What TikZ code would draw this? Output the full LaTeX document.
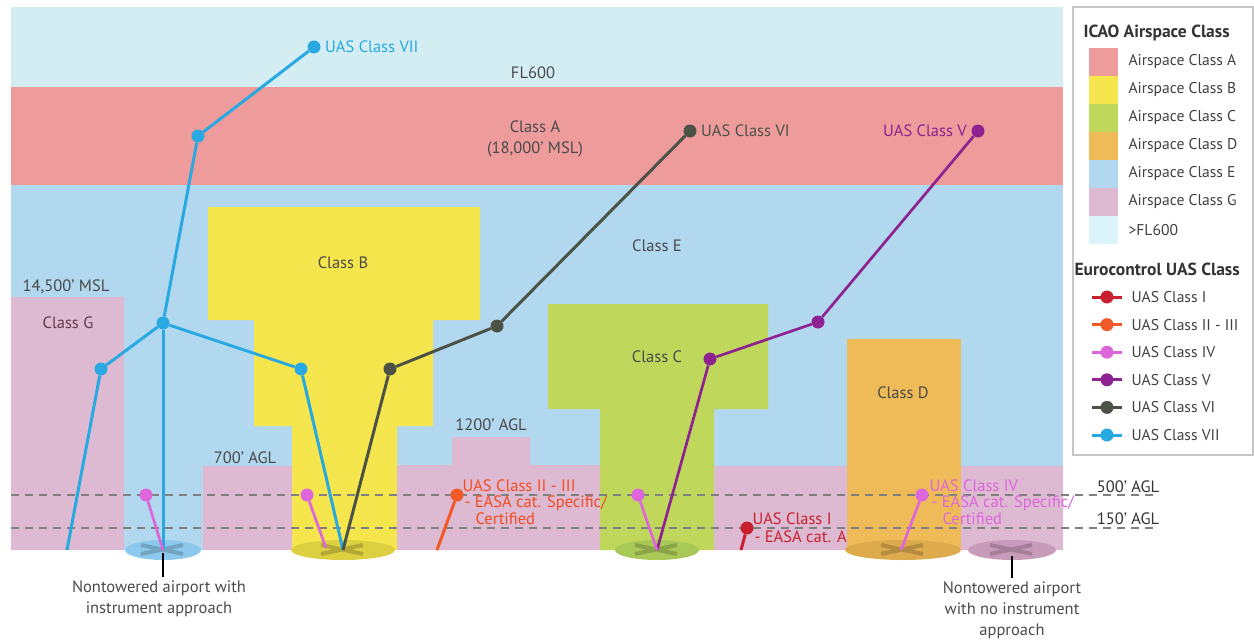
\documentclass[tikz,border=0pt]{standalone}
\usepackage{fontspec}
\setmainfont{PT Sans}
\usetikzlibrary{positioning}

\definecolor{flsky}{HTML}{D4EDF3}
\definecolor{flkey}{HTML}{DAF4FA}
\definecolor{clsA}{HTML}{EE9B9B}
\definecolor{clsB}{HTML}{F4E64C}
\definecolor{clsC}{HTML}{BFD85C}
\definecolor{clsD}{HTML}{EEBB58}
\definecolor{clsE}{HTML}{B1D8EF}
\definecolor{clsG}{HTML}{DDBAD2}
\definecolor{apE}{HTML}{8CC9EC}
\definecolor{apB}{HTML}{DCCF40}
\definecolor{apC}{HTML}{A9C957}
\definecolor{apD}{HTML}{DDAA4C}
\definecolor{apG}{HTML}{C99BBA}
\definecolor{uasI}{HTML}{C8202F}
\definecolor{uasII}{HTML}{F05A28}
\definecolor{uasIV}{HTML}{DD66DD}
\definecolor{uasV}{HTML}{8E2290}
\definecolor{uasVI}{HTML}{4C5346}
\definecolor{uasVII}{HTML}{29A9E1}
\definecolor{txt}{HTML}{4A4A4A}

\begin{document}
\begin{tikzpicture}[x=1pt, y=-1pt,
    every node/.style={font=\fontsize{16.5}{20}\selectfont, text=txt},
    uasdot/.style={circle, fill=#1, inner sep=0pt, minimum size=13pt},
    uasline/.style={draw=#1, line width=3pt},
    agl line/.style={draw=gray, line width=1.5pt, dash pattern=on 8pt off 6pt},
    legend text/.style={anchor=west, font=\fontsize{15.6}{18}\selectfont, text=black!75},
    legend title/.style={anchor=west, font=\bfseries\fontsize{17.5}{20}\selectfont, text=black!80}]

  \useasboundingbox (0,0) rectangle (1254,642);

  \fill[flsky] (11,7) rectangle (1063,87);
  \fill[clsA] (11,87) rectangle (1063,185);
  \fill[clsE] (11,185) rectangle (1063,550);
  \fill[clsB] (208,207) -- (480,207) -- (480,320) -- (433,320) -- (433,426) -- (397,426)
    -- (397,550) -- (292,550) -- (292,426) -- (254,426) -- (254,320) -- (208,320) -- cycle;
  \fill[clsC] (548,304) -- (768,304) -- (768,409) -- (714,409) -- (714,550)
    -- (600,550) -- (600,409) -- (548,409) -- cycle;
  \fill[clsD] (847,339) rectangle (961,550);
  \fill[clsG] (11,297) rectangle (124,550)
    (203,466) rectangle (292,550)
    (397,465) -- (452,465) -- (452,437) -- (530,437) -- (530,465) -- (600,465) -- (600,550) -- (397,550) -- cycle
    (714,466) rectangle (847,550)
    (961,466) rectangle (1063,550);

  \node (fl) at (533,73) {FL600};
  \node[align=center, font=\fontsize{16.5}{21}\selectfont] (a) at (535,139) {Class A\\(18,000’ MSL)};
  \node (e) at (657,246) {Class E};
  \node (b) at (343,263) {Class B};
  \node (c) at (657,357) {Class C};
  \node (d) at (903,393) {Class D};
  \node[text=txt!80!purple] (g) at (68,323) {Class G};
  \node (msl) at (66,287) {14,500’ MSL};
  \node (agl700) at (245,458) {700’ AGL};
  \node (agl1200) at (491,425) {1200’ AGL};
  \node[text=black!80] (agl500) at (1128,487) {500’ AGL};
  \node[text=black!80] (agl150) at (1128,519) {150’ AGL};

  \draw[agl line] (11,495) -- (1153,495);
  \draw[agl line] (11,528) -- (1153,528);

  \foreach \cx/\rx/\col in {163/38/apE, 343/52/apB, 657/42/apC, 903/58/apD, 1012/44/apG} {
    \fill[\col] (\cx,550) ellipse [x radius=\rx pt, y radius=10pt];
    \draw[black, opacity=.18, line width=4pt] (\cx-22,545) -- (\cx+20,554) (\cx-22,554) -- (\cx+20,545);
  }

  \coordinate (g1) at (163,550);
  \coordinate (g2) at (343,550);
  \coordinate (g2iv) at (326,548);
  \coordinate (g3) at (657,550);
  \coordinate (g4iv) at (901,550);
  \coordinate (gvii) at (67,550);
  \coordinate (gii) at (437,550);
  \coordinate (gi) at (741,550);
  \coordinate (t1) at (163,553);
  \coordinate (t5) at (1012,556);

  \node[align=center] (ap1) at (159,599) {Nontowered airport with\\[1pt]instrument approach};
  \node[align=center] (ap5) at (1012,610) {Nontowered airport\\[1pt]with no instrument\\[1pt]approach};
  \draw[black, line width=2.5pt] (t1) -- (t1 |- ap1.north);
  \draw[black, line width=2.5pt] (t5) -- (ap5.north);

  \node[uasdot=uasVII] (vii1) at (314,47) {};
  \node[uasdot=uasVII] (vii2) at (198,136) {};
  \node[uasdot=uasVII] (vii3) at (163,323) {};
  \node[uasdot=uasVII] (vii4) at (101,369) {};
  \node[uasdot=uasVII] (vii5) at (301,369) {};
  \node[uasdot=uasVI] (vi1) at (690,131) {};
  \node[uasdot=uasVI] (vi2) at (497,326) {};
  \node[uasdot=uasVI] (vi3) at (390,369) {};
  \node[uasdot=uasV] (v1) at (978,131) {};
  \node[uasdot=uasV] (v2) at (818,322) {};
  \node[uasdot=uasV] (v3) at (710,359) {};
  \node[uasdot=uasIV] (iv1) at (146,495) {};
  \node[uasdot=uasIV] (iv2) at (307,495) {};
  \node[uasdot=uasIV] (iv3) at (638,495) {};
  \node[uasdot=uasIV] (iv4) at (922,495) {};
  \node[uasdot=uasII] (ii) at (457,495) {};
  \node[uasdot=uasI] (i) at (747,528) {};

  \path[uasline=uasVII]
    (vii1) edge (vii2)
    (vii2) edge (vii3)
    (vii3) edge (vii4)
           edge (g1)
           edge (vii5)
    (vii4) edge (gvii)
    (vii5) edge (g2);
  \path[uasline=uasVI]
    (vi1) edge (vi2)
    (vi2) edge (vi3)
    (vi3) edge (g2);
  \path[uasline=uasV, line width=2.7pt]
    (v1) edge (v2)
    (v2) edge (v3)
    (v3) edge (g3);
  \path[uasline=uasIV, line width=2.7pt]
    (iv1) edge (g1)
    (iv2) edge (g2iv)
    (iv3) edge (g3)
    (iv4) edge (g4iv);
  \path[uasline=uasII] (ii) edge (gii);
  \path[uasline=uasI] (i) edge (gi);

  \node[text=uasVII, right=1pt of vii1] (vii1lbl) {UAS Class VII};
  \node[text=uasVI, right=1pt of vi1] (vi1lbl) {UAS Class VI};
  \node[text=uasV, left=1pt of v1] (v1lbl) {UAS Class V};
  \node[text=uasII!85!red, anchor=north west, align=left, font=\fontsize{16.5}{16.5}\selectfont]
    (iilbl) at (459,476) {UAS Class II - III\\\hspace{2pt}- EASA cat. Specific/\\\hspace{13pt}Certified};
  \node[text=uasIV, anchor=north west, align=left, font=\fontsize{16.5}{16.5}\selectfont]
    (iv4lbl) at (926,476) {UAS Class IV\\\hspace{2pt}- EASA cat. Specific/\\\hspace{13pt}Certified};
  \node[text=uasI, anchor=north west, align=left, font=\fontsize{16.5}{18}\selectfont]
    (ilbl) at (749,509) {UAS Class I\\\hspace{2pt}- EASA cat. A};

  \draw[black!22, line width=1.2pt] (1073,7) rectangle (1253,455);
  \node[legend title] (icao) at (1080,33) {ICAO Airspace Class};
  \foreach \col/\name [count=\k] in {clsA/Airspace Class A, clsB/Airspace Class B, clsC/Airspace Class C,
      clsD/Airspace Class D, clsE/Airspace Class E, clsG/Airspace Class G, flkey/>FL600} {
    \fill[\col] (1089,{20+28*\k}) rectangle ++(29,28);
    \node[legend text] at (1125,{34+28*\k}) {\name};
  }
  \node[legend title] (euro) at (1071,269) {Eurocontrol UAS Class};
  \foreach \col/\name [count=\k] in {uasI/UAS Class I, uasII/UAS Class II - III, uasIV/UAS Class IV,
      uasV/UAS Class V, uasVI/UAS Class VI, uasVII/UAS Class VII} {
    \draw[\col, line width=3pt] (1092,{269.4+27.6*\k}) -- (1122,{269.4+27.6*\k});
    \node[uasdot=\col] at (1107,{269.4+27.6*\k}) {};
    \node[legend text] at (1128,{269.4+27.6*\k}) {\name};
  }
\end{tikzpicture}
\end{document}
